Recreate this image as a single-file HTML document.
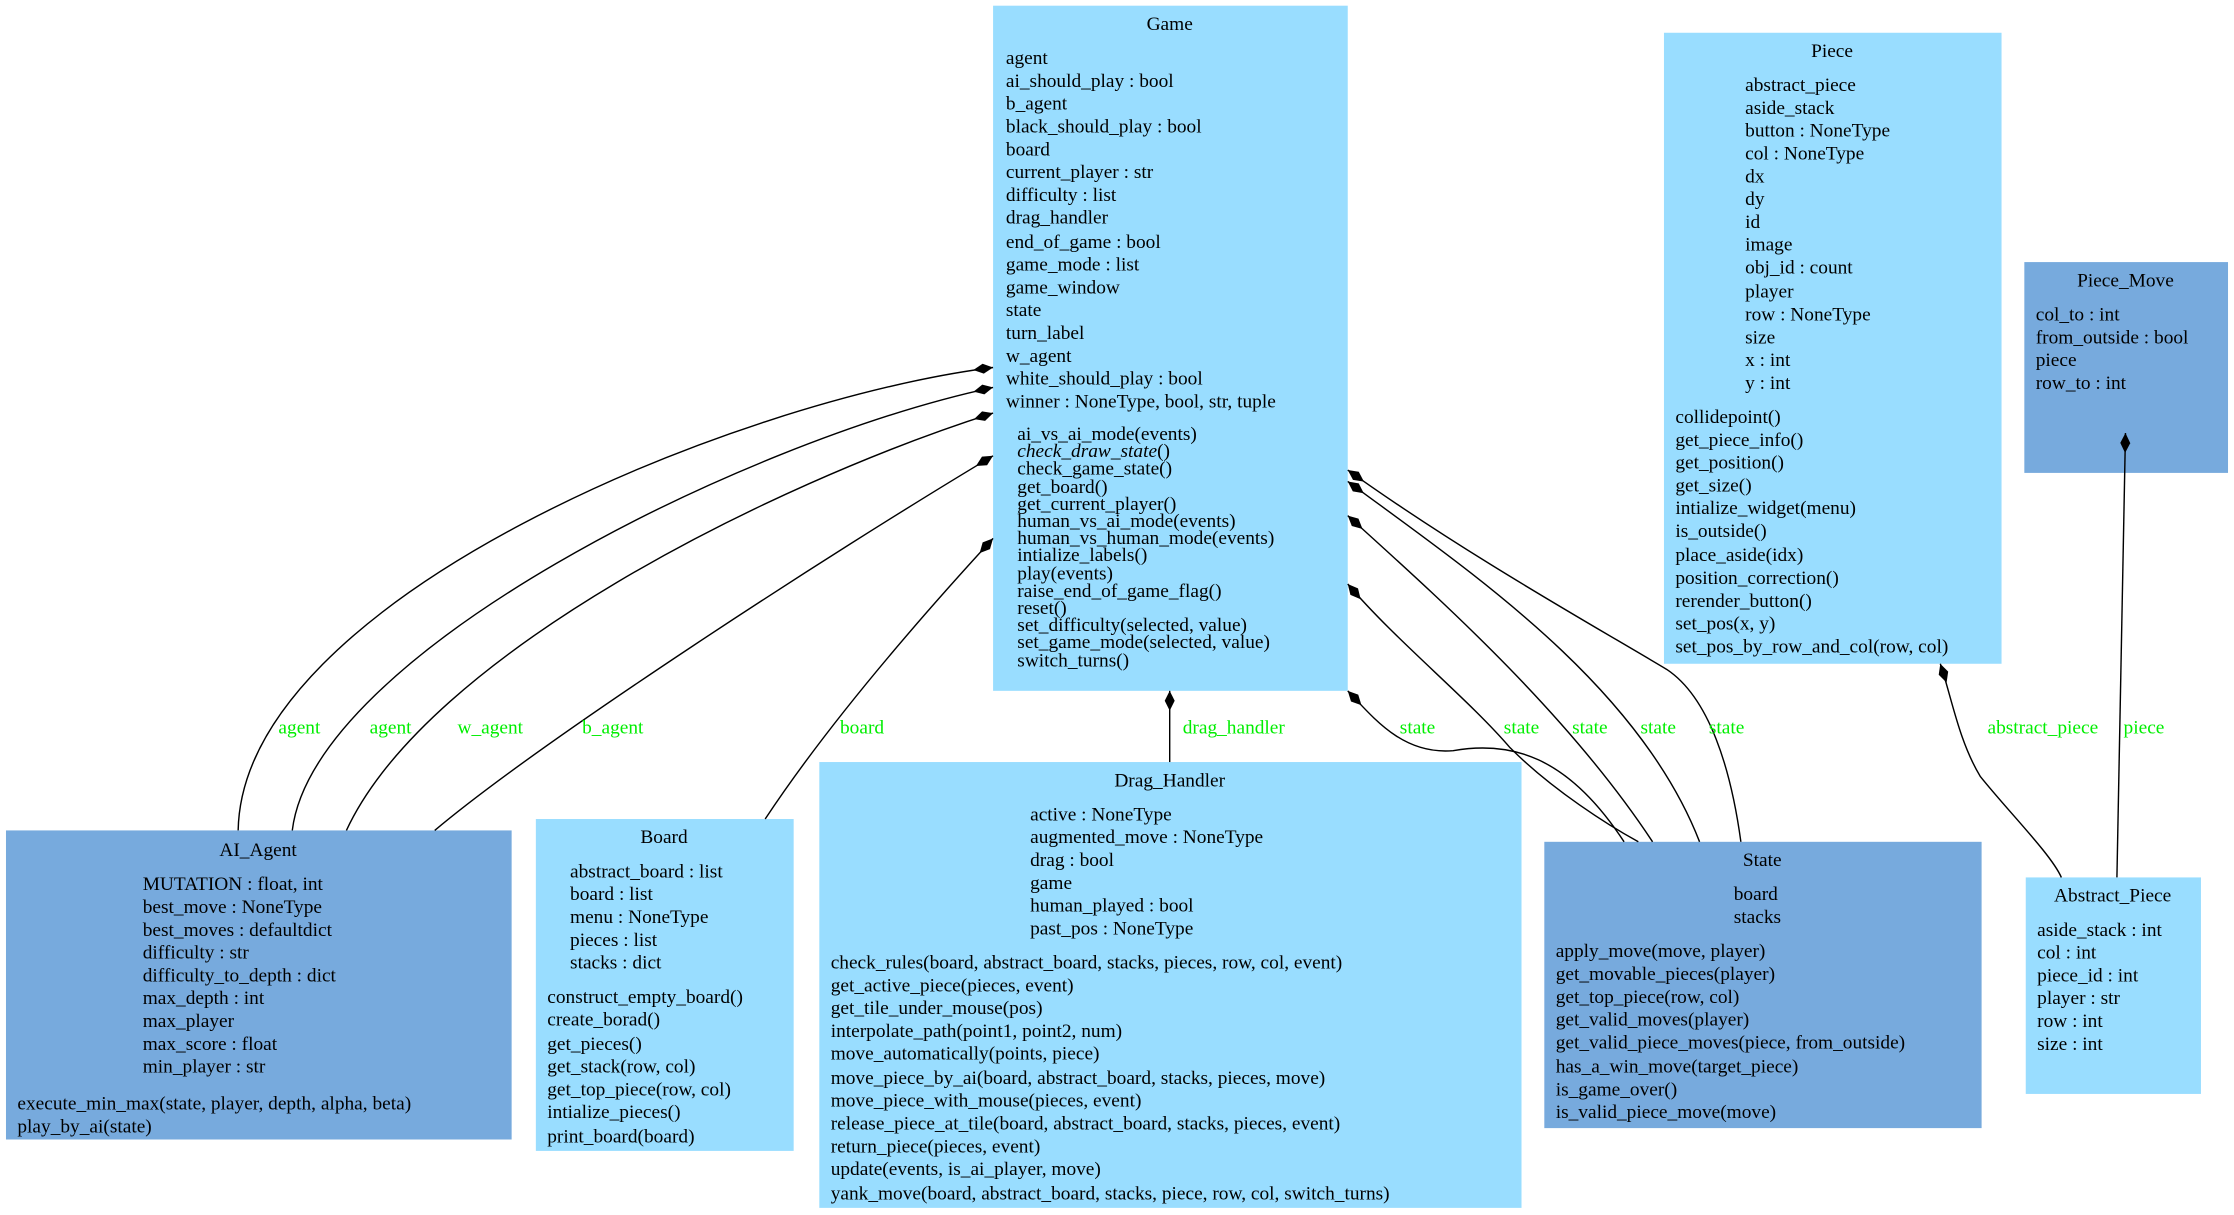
<!DOCTYPE html>
<html><head><meta charset="utf-8"><style>
html,body{margin:0;padding:0;background:#fff;}
svg{display:block;}
text{font-family:"Liberation Serif",serif;font-size:13.6px;fill:#000;}
.l{fill:#00ee00;}
</style></head><body>
<svg width="2234" height="1215" viewBox="0 0 1568 853" xmlns="http://www.w3.org/2000/svg">
<defs>
<marker id="d" markerUnits="userSpaceOnUse" markerWidth="16" markerHeight="10" refX="0" refY="4" orient="auto" viewBox="0 0 16 8">
<polygon points="0,4 7,0.5 14,4 7,7.5" fill="#000"/>
</marker>
</defs>
<g fill="#99ddff">
<rect x="697" y="4" width="249" height="481"/>
<rect x="1168" y="23" width="237" height="443"/>
<rect x="376" y="575" width="181" height="233"/>
<rect x="575" y="535" width="493" height="313"/>
<rect x="1422" y="616" width="123" height="152"/>
</g>
<g fill="#77aadd">
<rect x="1421" y="184" width="143" height="148"/>
<rect x="4" y="583" width="355" height="217"/>
<rect x="1084" y="591" width="307" height="201"/>
</g>
<g fill="none" stroke="#000" stroke-width="1">
<path d="M697,258 C520,280 170,420 167,583" marker-start="url(#d)"/>
<path d="M697,272 C520,310 220,460 205,583" marker-start="url(#d)"/>
<path d="M697,290 C540,340 300,460 243,583" marker-start="url(#d)"/>
<path d="M697,320 C580,390 380,520 305,583" marker-start="url(#d)"/>
<path d="M697,378 C640,440 580,510 537,575" marker-start="url(#d)"/>
<path d="M821,485 L821,535" marker-start="url(#d)"/>
<path d="M946,485 C965,505 985,530 1020,527 C1060,520 1100,530 1140,591" marker-start="url(#d)"/>
<path d="M946,410 C980,450 1030,490 1060,525 C1090,555 1130,580 1150,591" marker-start="url(#d)"/>
<path d="M946,362 C1010,420 1100,500 1160,591" marker-start="url(#d)"/>
<path d="M946,338 C1030,400 1150,480 1193,591" marker-start="url(#d)"/>
<path d="M946,330 C1030,390 1120,440 1170,470 C1200,490 1215,540 1222,591" marker-start="url(#d)"/>
<path d="M1362,466 C1370,490 1375,520 1390,545 C1410,570 1440,600 1447,616" marker-start="url(#d)"/>
<path d="M1492,304 L1486,616" marker-start="url(#d)"/>
</g>
<g class="l">
<text class="l" x="210" y="515" text-anchor="middle">agent</text>
<text class="l" x="274" y="515" text-anchor="middle">agent</text>
<text class="l" x="344" y="515" text-anchor="middle">w_agent</text>
<text class="l" x="430" y="515" text-anchor="middle">b_agent</text>
<text class="l" x="605" y="515" text-anchor="middle">board</text>
<text class="l" x="866" y="515" text-anchor="middle">drag_handler</text>
<text class="l" x="995" y="515" text-anchor="middle">state</text>
<text class="l" x="1068" y="515" text-anchor="middle">state</text>
<text class="l" x="1116" y="515" text-anchor="middle">state</text>
<text class="l" x="1164" y="515" text-anchor="middle">state</text>
<text class="l" x="1212" y="515" text-anchor="middle">state</text>
<text class="l" x="1434" y="515" text-anchor="middle">abstract_piece</text>
<text class="l" x="1505" y="515" text-anchor="middle">piece</text>
</g>
<!-- Game -->
<text x="821" y="21" text-anchor="middle">Game</text>
<g>
<text x="706" y="45">agent</text>
<text x="706" y="61">ai_should_play : bool</text>
<text x="706" y="77">b_agent</text>
<text x="706" y="93">black_should_play : bool</text>
<text x="706" y="109">board</text>
<text x="706" y="125">current_player : str</text>
<text x="706" y="141">difficulty : list</text>
<text x="706" y="157">drag_handler</text>
<text x="706" y="174">end_of_game : bool</text>
<text x="706" y="190">game_mode : list</text>
<text x="706" y="206">game_window</text>
<text x="706" y="222">state</text>
<text x="706" y="238">turn_label</text>
<text x="706" y="254">w_agent</text>
<text x="706" y="270">white_should_play : bool</text>
<text x="706" y="286">winner : NoneType, bool, str, tuple</text>
<text x="714" y="309">ai_vs_ai_mode(events)</text>
<text x="714" y="321"><tspan font-style="italic">check_draw_state</tspan>()</text>
<text x="714" y="333">check_game_state()</text>
<text x="714" y="346">get_board()</text>
<text x="714" y="358">get_current_player()</text>
<text x="714" y="370">human_vs_ai_mode(events)</text>
<text x="714" y="382">human_vs_human_mode(events)</text>
<text x="714" y="394">intialize_labels()</text>
<text x="714" y="407">play(events)</text>
<text x="714" y="419">raise_end_of_game_flag()</text>
<text x="714" y="431">reset()</text>
<text x="714" y="443">set_difficulty(selected, value)</text>
<text x="714" y="455">set_game_mode(selected, value)</text>
<text x="714" y="468">switch_turns()</text>
</g>
<!-- Piece -->
<text x="1286" y="40" text-anchor="middle">Piece</text>
<text x="1225" y="64">abstract_piece</text>
<text x="1225" y="80">aside_stack</text>
<text x="1225" y="96">button : NoneType</text>
<text x="1225" y="112">col : NoneType</text>
<text x="1225" y="128">dx</text>
<text x="1225" y="144">dy</text>
<text x="1225" y="160">id</text>
<text x="1225" y="176">image</text>
<text x="1225" y="192">obj_id : count</text>
<text x="1225" y="209">player</text>
<text x="1225" y="225">row : NoneType</text>
<text x="1225" y="241">size</text>
<text x="1225" y="257">x : int</text>
<text x="1225" y="273">y : int</text>
<text x="1176" y="297">collidepoint()</text>
<text x="1176" y="313">get_piece_info()</text>
<text x="1176" y="329">get_position()</text>
<text x="1176" y="345">get_size()</text>
<text x="1176" y="361">intialize_widget(menu)</text>
<text x="1176" y="377">is_outside()</text>
<text x="1176" y="394">place_aside(idx)</text>
<text x="1176" y="410">position_correction()</text>
<text x="1176" y="426">rerender_button()</text>
<text x="1176" y="442">set_pos(x, y)</text>
<text x="1176" y="458">set_pos_by_row_and_col(row, col)</text>
<!-- Piece_Move -->
<text x="1492" y="201" text-anchor="middle">Piece_Move</text>
<text x="1429" y="225">col_to : int</text>
<text x="1429" y="241">from_outside : bool</text>
<text x="1429" y="257">piece</text>
<text x="1429" y="273">row_to : int</text>
<!-- AI_Agent -->
<text x="181" y="601" text-anchor="middle">AI_Agent</text>
<text x="100" y="625">MUTATION : float, int</text>
<text x="100" y="641">best_move : NoneType</text>
<text x="100" y="657">best_moves : defaultdict</text>
<text x="100" y="673">difficulty : str</text>
<text x="100" y="689">difficulty_to_depth : dict</text>
<text x="100" y="705">max_depth : int</text>
<text x="100" y="721">max_player</text>
<text x="100" y="737">max_score : float</text>
<text x="100" y="753">min_player : str</text>
<text x="12" y="779">execute_min_max(state, player, depth, alpha, beta)</text>
<text x="12" y="795">play_by_ai(state)</text>
<!-- Board -->
<text x="466" y="592" text-anchor="middle">Board</text>
<text x="400" y="616">abstract_board : list</text>
<text x="400" y="632">board : list</text>
<text x="400" y="648">menu : NoneType</text>
<text x="400" y="664">pieces : list</text>
<text x="400" y="680">stacks : dict</text>
<text x="384" y="704">construct_empty_board()</text>
<text x="384" y="720">create_borad()</text>
<text x="384" y="737">get_pieces()</text>
<text x="384" y="753">get_stack(row, col)</text>
<text x="384" y="769">get_top_piece(row, col)</text>
<text x="384" y="785">intialize_pieces()</text>
<text x="384" y="802">print_board(board)</text>
<!-- Drag_Handler -->
<text x="821" y="552" text-anchor="middle">Drag_Handler</text>
<text x="723" y="576">active : NoneType</text>
<text x="723" y="592">augmented_move : NoneType</text>
<text x="723" y="608">drag : bool</text>
<text x="723" y="624">game</text>
<text x="723" y="640">human_played : bool</text>
<text x="723" y="656">past_pos : NoneType</text>
<text x="583" y="680">check_rules(board, abstract_board, stacks, pieces, row, col, event)</text>
<text x="583" y="696">get_active_piece(pieces, event)</text>
<text x="583" y="712">get_tile_under_mouse(pos)</text>
<text x="583" y="728">interpolate_path(point1, point2, num)</text>
<text x="583" y="744">move_automatically(points, piece)</text>
<text x="583" y="761">move_piece_by_ai(board, abstract_board, stacks, pieces, move)</text>
<text x="583" y="777">move_piece_with_mouse(pieces, event)</text>
<text x="583" y="793">release_piece_at_tile(board, abstract_board, stacks, pieces, event)</text>
<text x="583" y="809">return_piece(pieces, event)</text>
<text x="583" y="825">update(events, is_ai_player, move)</text>
<text x="583" y="842">yank_move(board, abstract_board, stacks, piece, row, col, switch_turns)</text>
<!-- State -->
<text x="1237" y="608" text-anchor="middle">State</text>
<text x="1217" y="632">board</text>
<text x="1217" y="648">stacks</text>
<text x="1092" y="672">apply_move(move, player)</text>
<text x="1092" y="688">get_movable_pieces(player)</text>
<text x="1092" y="704">get_top_piece(row, col)</text>
<text x="1092" y="720">get_valid_moves(player)</text>
<text x="1092" y="736">get_valid_piece_moves(piece, from_outside)</text>
<text x="1092" y="753">has_a_win_move(target_piece)</text>
<text x="1092" y="769">is_game_over()</text>
<text x="1092" y="785">is_valid_piece_move(move)</text>
<!-- Abstract_Piece -->
<text x="1483" y="633" text-anchor="middle">Abstract_Piece</text>
<text x="1430" y="657">aside_stack : int</text>
<text x="1430" y="673">col : int</text>
<text x="1430" y="689">piece_id : int</text>
<text x="1430" y="705">player : str</text>
<text x="1430" y="721">row : int</text>
<text x="1430" y="737">size : int</text>
</svg>
</body></html>
